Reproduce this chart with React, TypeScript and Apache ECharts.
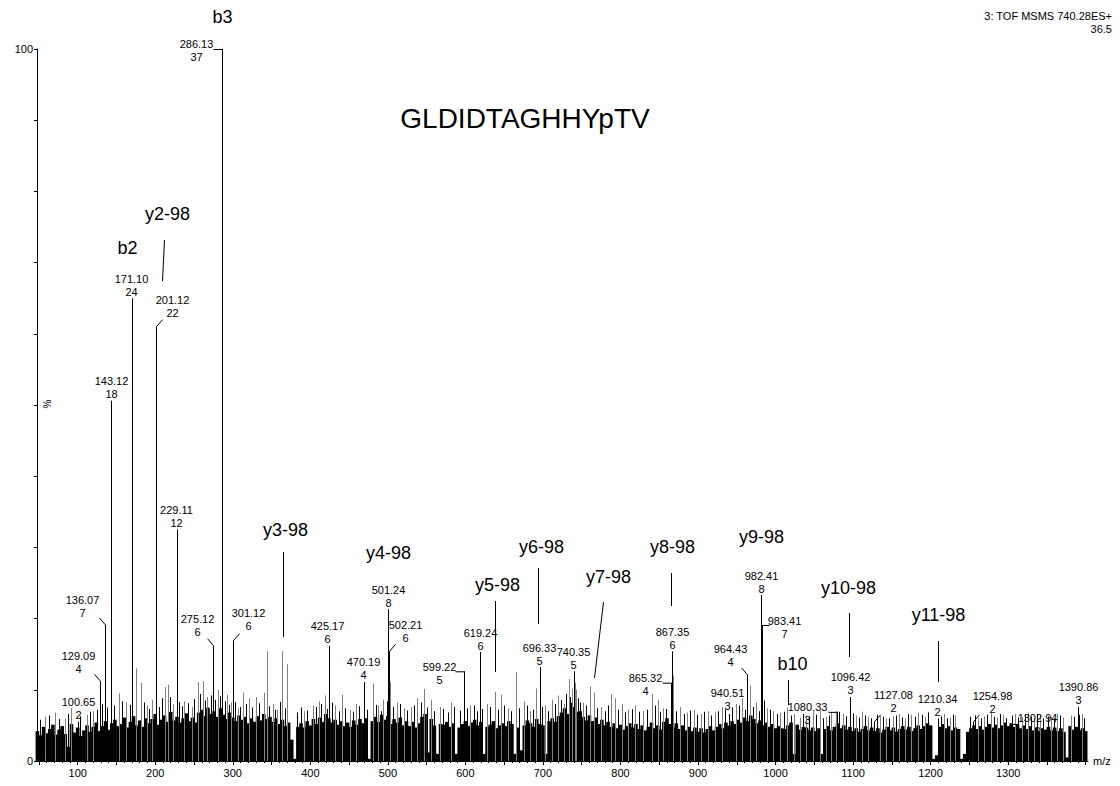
import React, { useEffect, useRef } from "react";
import * as echarts from "echarts";

const FONT = '"Liberation Sans", Arial, Helvetica, sans-serif';
const X_MIN = 47.5;
const X_MAX = 1403;

// ---- axis ticks ----
const xTickLabels = [100, 200, 300, 400, 500, 600, 700, 800, 900, 1000, 1100, 1200, 1300];
const xMajorTicks = [50, 100, 150, 200, 250, 300, 350, 400, 450, 500, 550, 600, 650, 700, 750, 800, 850, 900, 950, 1000, 1050, 1100, 1150, 1200, 1250, 1300, 1350, 1400];
const yTickLabels = [0, 100];

// ---- labelled peaks ----
const peakMz = [100.65, 129.09, 136.07, 143.12, 171.1, 201.12, 229.11, 275.12, 286.13, 301.12, 425.17, 470.19, 501.24, 502.21, 599.22, 619.24, 696.33, 740.35, 865.32, 867.35, 940.51, 964.43, 982.41, 983.41, 1080.33, 1096.42, 1127.08, 1210.34, 1254.98, 1302.94, 1390.86];
const peakCounts = [2, 4, 7, 18, 24, 22, 12, 6, 37, 6, 6, 4, 8, 6, 5, 6, 5, 5, 4, 6, 3, 4, 8, 7, 3, 3, 2, 2, 2, 2, 3];
const peakPct = [5.5, 11.2, 19.1, 50.6, 65.0, 61.0, 32.5, 16.2, 100, 16.9, 16.2, 11.1, 21.3, 15.4, 12.6, 15.3, 13.2, 12.6, 11.0, 15.4, 6.6, 12.1, 23.3, 19.1, 6.9, 9.0, 5.5, 6.0, 5.5, 5.2, 7.6];

// label placement relative to the peak top: [dx, dy, leader kind]
const peakLabelLayout: [number, number, string][] = [
  [0, -13, "a"], [-22, -19, "dl"], [-23, -19, "dl"], [0, -13, "a"], [-1, -13, "a"],
  [16, -20, "dr"], [-1, -13, "a"], [-16, -20, "dl"], [-26, 1, "ul"], [15, -21, "dr"],
  [-2, -13, "a"], [-1, -13, "a"], [0, -13, "a"], [16, -20, "dr"], [-25, 2, "ul"],
  [0, -13, "a"], [-1, -13, "a"], [-1, -13, "a"], [-26, 2, "ul"], [0, -13, "a"],
  [-2, -15, "a"], [-17, -19, "dl"], [0, -13, "a"], [22, 2, "ur"], [-30, 2, "ul"],
  [0, -13, "a"], [19, -20, "dr"], [-1, -13, "a"], [19, -19, "dr"], [27, 1, "ur"],
  [0, -13, "a"],
];

// ---- fragment ion annotations ----
const ionNames = ["b3", "b2", "y2-98", "y3-98", "y4-98", "y5-98", "y6-98", "y7-98", "y8-98", "y9-98", "b10", "y10-98", "y11-98"];
const ionMz = [286.13, 171.1, 209.1, 365.2, 500.2, 638.6, 693.3, 766.2, 864.8, 982.41, 1015.7, 1095.4, 1209.6];
// [labelDx, labelY, leaderTopDx, leaderTopY, leaderBottomY] (page pixels)
const ionLayout: (number | null)[][] = [
  [0, 17, null, null, null],
  [-6, 248, null, null, null],
  [5, 214, 2, 240, 281],
  [2, 530, 0, 552, 637],
  [0, 553, null, null, null],
  [2, 585, 0, 601, 672],
  [3, 547, 0, 568, 624],
  [14, 577, 9, 602, 678],
  [1, 547, 0, 573, 606],
  [-1, 537, null, null, null],
  [4, 664, 0, 680, 705],
  [-1, 588, 0, 613, 657],
  [0, 615, 0, 641, 682],
];

// ---- baseline noise (% , one value every 4 m/z from each block start) ----
const noiseBlocks: { start: number; values: number[] }[] = [
  { start: 48, values: [4.2, 3.6, 4.8, 3.9, 4.5, 5.1, 3.7, 4.4, 4.9, 3.8, 2.0, 5.2, 4.0, 4.7, 3.5, 4.3, 5.0, 4.1, 4.8, 5.4, 4.2, 4.9, 5.6, 4.4, 5.3] },
  { start: 148, values: [5.8, 4.9, 5.2, 6.1, 4.7, 5.5, 6.3, 5.0, 5.7, 4.8, 6.0, 5.3, 5.9, 6.6, 5.1, 5.8, 6.4, 5.5, 6.9, 5.7, 6.2, 5.4, 6.0, 6.7, 5.6] },
  { start: 248, values: [6.1, 5.4, 6.8, 7.2, 6.3, 7.5, 6.6, 7.0, 6.2, 7.4, 6.5, 5.9, 6.8, 6.1, 5.6, 6.4, 5.8, 6.2, 5.3, 6.0, 5.5, 6.3, 5.7, 6.6, 5.9] },
  { start: 348, values: [6.2, 5.5, 6.0, 5.2, 5.8, 4.9, 5.4, 3.0, 0.3, 4.8, 5.3, 4.7, 5.6, 5.0, 5.9, 5.2, 6.1, 5.5, 6.6, 6.0, 5.4, 5.8, 5.1, 5.6, 4.9] },
  { start: 448, values: [5.4, 4.8, 5.7, 5.1, 5.9, 5.3, 6.0, 0.3, 5.6, 6.2, 5.5, 6.5, 5.8, 6.3, 5.2, 5.9, 5.4, 6.1, 5.0, 5.6, 4.9, 5.5, 4.7, 5.3, 6.2] },
  { start: 548, values: [6.6, 1.2, 5.9, 5.0, 1.0, 5.2, 5.1, 5.5, 4.8, 5.3, 1.0, 4.7, 5.2, 5.6, 4.9, 5.4, 5.8, 5.0, 5.5, 1.0, 4.8, 5.1, 5.6, 4.6, 5.0] },
  { start: 648, values: [5.3, 4.9, 5.6, 5.2, 1.0, 4.7, 1.5, 5.0, 5.7, 5.3, 4.8, 5.9, 5.2, 5.0, 1.0, 5.6, 6.0, 5.5, 6.3, 6.8, 7.4, 6.6, 8.2, 7.6, 6.9] },
  { start: 748, values: [7.0, 6.2, 5.7, 6.4, 5.6, 6.1, 5.2, 5.8, 5.0, 5.5, 4.8, 5.3, 4.6, 5.1, 4.4, 4.9, 5.3, 4.7, 5.2, 4.5, 5.0, 4.3, 4.8, 5.4, 4.6] },
  { start: 848, values: [5.0, 4.4, 5.5, 6.0, 5.2, 4.7, 5.3, 4.5, 5.0, 4.3, 4.8, 4.2, 4.7, 4.1, 4.6, 4.0, 4.5, 4.9, 4.3, 4.8, 5.2, 4.6, 5.4, 5.0, 5.6] },
  { start: 948, values: [5.2, 5.8, 5.4, 6.1, 5.6, 6.4, 5.9, 5.3, 5.7, 5.0, 5.4, 4.8, 5.2, 4.6, 4.9, 4.6, 4.5, 5.0, 5.4, 1.0, 5.1, 4.4, 4.8, 4.7, 4.3] },
  { start: 1048, values: [4.7, 4.2, 4.6, 1.0, 4.5, 4.9, 4.3, 4.8, 5.3, 4.6, 5.0, 4.4, 4.8, 4.2, 4.6, 4.1, 4.5, 4.9, 4.3, 4.7, 4.2, 4.6, 4.0, 4.4, 4.8] },
  { start: 1148, values: [4.3, 4.7, 4.1, 4.5, 4.9, 4.4, 4.8, 4.2, 4.6, 5.0, 4.5, 4.9, 5.3, 5.0, 0.3, 0.8, 4.8, 5.2, 4.6, 4.9, 4.3, 4.7, 4.5, 0.3, 1.0] },
  { start: 1248, values: [4.1, 4.6, 5.0, 4.5, 4.9, 4.4, 4.8, 5.2, 4.7, 5.1, 4.6, 5.0, 5.4, 4.9, 5.3, 4.8, 5.2, 4.6, 5.0, 4.5, 4.9, 4.3, 4.7, 4.2, 4.6] },
  { start: 1348, values: [4.4, 4.8, 4.3, 4.7, 4.2, 4.6, 4.1, 0.5, 4.9, 4.4, 4.8, 4.3, 4.6, 4.2] },
];
const NOISE_STEP = 4;

// ---- unlabelled grey peaks [m/z, %] ----
const minorPeaks: [number, number][] = [
  [58, 6.2], [71, 6.8], [84, 6.0], [92, 7.4], [112, 6.5], [121, 7.0], [154.5, 9.5], [163, 8.2], [175.2, 13.0], [182.5, 11.0],
  [190, 7.8], [196, 8.6], [202.1, 16.4], [213.8, 10.4], [216.8, 10.7], [224, 8.0], [238, 8.4], [248, 7.6], [255.5, 11.1], [262, 11.2],
  [268, 9.0], [282.2, 10.0], [287.1, 11.0], [293.4, 9.3], [298, 8.2], [307, 7.4], [313.6, 9.6], [322, 8.8], [330.8, 9.0], [340.3, 9.6],
  [344.5, 15.4], [352, 8.0], [358, 7.2], [364.4, 15.4], [370.8, 13.6], [392, 7.0], [404, 7.8], [412, 8.4], [419, 9.2], [433, 7.8],
  [441.8, 9.3], [452, 7.2], [460, 8.0], [481.2, 10.9], [488, 7.8], [495, 8.6], [503.7, 11.1], [512, 8.2], [521, 7.4], [530, 7.6],
  [538, 8.8], [547.9, 10.1], [556, 8.6], [568, 7.6], [582, 8.2], [607, 7.8], [628, 8.0], [638.2, 9.7], [646.9, 9.3], [655, 7.4],
  [666.2, 12.5], [676, 8.4], [684, 7.0], [691.1, 10.2], [703, 7.8], [712, 8.6], [720, 9.2], [728, 8.0], [734.6, 11.5], [738.4, 10.2],
  [741.4, 11.0], [743.6, 10.0], [752, 8.2], [761, 10.5], [766.3, 9.6], [776, 7.6], [788, 9.4], [793, 8.8], [802, 8.0], [811, 7.2],
  [820, 7.8], [830, 7.0], [841, 9.4], [849, 8.6], [856, 7.4], [868.3, 12.0], [878, 7.6], [886, 6.8], [895, 7.2], [905, 6.6],
  [913, 7.0], [922, 6.8], [931, 7.6], [950, 8.0], [957, 8.8], [968, 10.6], [975, 8.2], [990, 7.4], [998, 7.0], [1006, 6.8],
  [1016, 7.5], [1025, 6.6], [1032, 6.1], [1040, 6.4], [1049, 7.0], [1058, 7.1], [1066, 6.2], [1072, 6.8], [1078, 7.0], [1088, 6.6],
  [1104, 6.4], [1112, 6.9], [1120, 6.2], [1135, 6.4], [1143, 6.0], [1152, 6.3], [1160, 6.6], [1168, 6.0], [1176, 6.5], [1185, 6.8],
  [1193, 6.2], [1218, 6.6], [1226, 6.1], [1232, 6.4], [1262, 6.0], [1270, 6.3], [1278, 6.7], [1286, 6.1], [1294, 6.5], [1310, 6.6],
  [1318, 6.2], [1326, 6.8], [1334, 6.0], [1342, 6.4], [1356, 6.2], [1364, 6.6], [1372, 6.1], [1382, 6.4], [1396, 6.6],
];

// ---- unlabelled dark noise spikes [m/z, %] ----
const darkSpikes: [number, number][] = [
  [52, 5.8], [63, 6.4], [77, 5.9], [88, 6.6], [104, 6.3], [117, 6.9], [126, 7.2], [132, 8.0], [139, 7.5], [147, 7.8],
  [158, 8.4], [168, 7.9], [186, 8.2], [193, 7.3], [206, 7.6], [210, 8.8], [220, 9.0], [231, 8.3], [235, 7.7], [243, 8.1],
  [251, 8.7], [258, 9.4], [265, 8.5], [272, 9.2], [278, 8.6], [284, 9.1], [290, 8.4], [296, 7.9], [304, 8.3], [310, 7.6],
  [318, 8.0], [326, 7.5], [334, 8.1], [348, 7.7], [355, 7.2], [361, 8.3], [368, 7.4], [384, 6.8], [388, 7.5], [397, 7.1],
  [408, 7.6], [415, 8.0], [422, 7.3], [429, 8.2], [437, 7.0], [446, 7.4], [456, 6.9], [464, 7.7], [474, 7.2], [485, 7.9],
  [492, 7.0], [499, 8.4], [507, 7.6], [516, 8.0], [525, 7.1], [534, 7.8], [543, 8.2], [551, 7.5], [560, 7.0], [572, 7.3],
  [578, 6.8], [586, 7.6], [594, 7.1], [603, 7.4], [612, 7.8], [616, 7.0], [622, 7.3], [632, 7.6], [643, 7.2], [651, 7.8],
  [660, 7.0], [670, 7.4], [680, 7.8], [688, 7.2], [699, 7.6], [707, 7.0], [716, 8.0], [724, 8.6], [731, 9.4], [736, 9.0],
  [746, 8.8], [749, 8.2], [756, 7.8], [770, 7.4], [781, 7.0], [785, 7.8], [797, 7.2], [806, 6.8], [815, 7.3], [825, 6.9],
  [835, 7.2], [845, 7.8], [852, 6.9], [860, 7.3], [872, 7.0], [882, 6.6], [890, 7.1], [900, 6.5], [909, 6.9], [918, 6.4],
  [926, 7.0], [935, 7.2], [944, 7.5], [954, 7.8], [961, 7.2], [971, 7.6], [979, 7.0], [986, 8.5], [994, 7.2], [1002, 6.6],
  [1011, 6.9], [1020, 6.4], [1036, 6.6], [1044, 6.2], [1053, 6.5], [1062, 6.0], [1069, 6.4], [1083, 6.9], [1092, 6.3], [1100, 6.7],
  [1108, 6.1], [1116, 6.4], [1124, 6.0], [1131, 6.5], [1139, 6.2], [1147, 6.0], [1156, 6.4], [1164, 6.1], [1172, 6.6], [1180, 6.2],
  [1189, 6.5], [1197, 6.8], [1214, 6.3], [1222, 6.0], [1229, 6.5], [1251, 6.2], [1258, 6.4], [1266, 6.0], [1274, 6.5], [1282, 6.2],
  [1290, 6.6], [1298, 6.0], [1306, 6.4], [1314, 6.1], [1322, 6.5], [1330, 6.2], [1338, 6.6], [1346, 6.0], [1352, 6.3], [1360, 6.0],
  [1368, 6.4], [1386, 6.2], [1392, 6.5], [1399, 6.0],
];

const TITLE = "GLDIDTAGHHYpTV";
const HEADER_1 = "3: TOF MSMS 740.28ES+";
const HEADER_2 = "36.5";

function lineSeries(name: string, data: number[][], color: string, z: number) {
  return {
    type: "custom",
    name,
    xAxisIndex: 0,
    z,
    data,
    encode: { x: 0, y: 1 },
    renderItem: (params: any, api: any) => {
      const top = api.coord([api.value(0), api.value(1)]);
      const base = api.coord([api.value(0), 0]);
      return {
        type: "rect",
        shape: { x: Math.floor(top[0]), y: top[1], width: 1, height: base[1] - top[1] },
        style: { fill: color },
      };
    },
  };
}

export default function App() {
  const ref = useRef<HTMLDivElement>(null);

  useEffect(() => {
    if (!ref.current) return;
    const chart = echarts.init(ref.current, undefined, { renderer: "svg" });

    const noiseData: number[][] = [];
    noiseBlocks.forEach((b) => {
      b.values.forEach((v, i) => noiseData.push([b.start + i * NOISE_STEP, v]));
    });
    const minorTickValues: number[] = [];
    for (let t = 50; t <= 1400; t += 10) minorTickValues.push(t);

    const peakData = peakMz.map((m, i) => [m, peakPct[i]]);
    const ionData = ionMz.map((m) => [m, 0]);

    const option: any = {
      animation: false,
      backgroundColor: "#ffffff",
      grid: { left: 37, right: 32, top: 49, bottom: 25, containLabel: false },
      xAxis: [
        {
          type: "value",
          min: X_MIN,
          max: X_MAX,
          position: "bottom",
          axisLine: { show: true, onZero: false, lineStyle: { color: "#000", width: 1 } },
          axisTick: { show: true, length: 4, customValues: xMajorTicks, lineStyle: { color: "#000" } },
          axisLabel: {
            show: true,
            customValues: xTickLabels,
            formatter: (v: number) => String(v),
            color: "#000",
            fontSize: 11,
            fontFamily: FONT,
            margin: 6,
          },
          splitLine: { show: false },
          name: "m/z",
          nameLocation: "end",
          nameGap: 5,
          nameTextStyle: { color: "#000", fontSize: 11, fontFamily: FONT },
        },
        {
          type: "value",
          min: X_MIN,
          max: X_MAX,
          position: "bottom",
          axisLine: { show: false, onZero: false },
          axisTick: { show: true, length: 2, customValues: minorTickValues, lineStyle: { color: "#000" } },
          axisLabel: { show: false },
          splitLine: { show: false },
        },
      ],
      yAxis: {
        type: "value",
        min: 0,
        max: 100,
        interval: 10,
        axisLine: { show: true, onZero: false, lineStyle: { color: "#000", width: 1 } },
        axisTick: { show: true, length: 3, lineStyle: { color: "#000" } },
        axisLabel: {
          color: "#000",
          fontSize: 11,
          fontFamily: FONT,
          margin: 4,
          formatter: (v: number) => (yTickLabels.indexOf(v) >= 0 ? String(v) : ""),
        },
        splitLine: { show: false },
      },
      graphic: [
        {
          type: "text",
          x: 525,
          y: 118,
          style: { text: TITLE, fill: "#000", font: `28px ${FONT}`, align: "center", verticalAlign: "middle" },
        },
        {
          type: "text",
          x: 1112,
          y: 16,
          style: { text: HEADER_1, fill: "#000", font: `11px ${FONT}`, align: "right", verticalAlign: "middle" },
        },
        {
          type: "text",
          x: 1112,
          y: 29,
          style: { text: HEADER_2, fill: "#000", font: `11px ${FONT}`, align: "right", verticalAlign: "middle" },
        },
        {
          type: "text",
          x: 47,
          y: 404,
          rotation: Math.PI / 2,
          style: { text: "%", fill: "#000", font: `10px ${FONT}`, align: "center", verticalAlign: "middle" },
        },
      ],
      series: [
        {
          type: "custom",
          name: "noise",
          xAxisIndex: 0,
          z: 1,
          data: noiseData,
          encode: { x: 0, y: 1 },
          renderItem: (params: any, api: any) => {
            const top = api.coord([api.value(0), api.value(1)]);
            const base = api.coord([api.value(0), 0]);
            const w = 3.6;
            return {
              type: "rect",
              shape: { x: top[0] - w / 2, y: top[1], width: w, height: base[1] - top[1] },
              style: { fill: "#000" },
            };
          },
        },
        lineSeries("dark", darkSpikes, "#000", 2),
        lineSeries("minor", minorPeaks, "#808080", 3),
        {
          type: "custom",
          name: "peaks",
          xAxisIndex: 0,
          z: 4,
          data: peakData,
          encode: { x: 0, y: 1 },
          renderItem: (params: any, api: any) => {
            const i = params.dataIndex;
            const m = api.value(0);
            const top = api.coord([m, api.value(1)]);
            const base = api.coord([m, 0]);
            const x = Math.floor(top[0]);
            const px = x + 0.5;
            const py = top[1];
            const [dx, dy, kind] = peakLabelLayout[i];
            const children: any[] = [
              { type: "rect", shape: { x, y: py, width: 1, height: base[1] - py }, style: { fill: "#000" } },
              {
                type: "text",
                x: px + dx,
                y: py + dy,
                style: {
                  text: m.toFixed(2) + "\n" + peakCounts[i],
                  fill: "#000",
                  font: `11px ${FONT}`,
                  align: "center",
                  verticalAlign: "middle",
                  lineHeight: 13,
                },
              },
            ];
            let l: number[] | null = null;
            if (kind === "dl") l = [px - 6, py - 7, px, py];
            else if (kind === "dr") l = [px + 6, py - 7, px, py];
            else if (kind === "ul") l = [px - 9, py + 0.5, px, py + 0.5];
            else if (kind === "ur") l = [px, py + 0.5, px + 7, py + 0.5];
            if (l) {
              children.push({
                type: "line",
                shape: { x1: l[0], y1: l[1], x2: l[2], y2: l[3] },
                style: { stroke: "#000", lineWidth: 1 },
              });
            }
            return { type: "group", children };
          },
        },
        {
          type: "custom",
          name: "ions",
          xAxisIndex: 0,
          z: 5,
          data: ionData,
          encode: { x: 0, y: 1 },
          renderItem: (params: any, api: any) => {
            const i = params.dataIndex;
            const px = Math.round(api.coord([api.value(0), 0])[0]) + 0.5;
            const [dx, ly, tdx, ty, by] = ionLayout[i];
            const children: any[] = [
              {
                type: "text",
                x: px + (dx as number),
                y: ly as number,
                style: {
                  text: ionNames[i],
                  fill: "#000",
                  font: `18px ${FONT}`,
                  align: "center",
                  verticalAlign: "middle",
                },
              },
            ];
            if (ty !== null) {
              children.push({
                type: "line",
                shape: { x1: px + (tdx as number), y1: ty as number, x2: px, y2: by as number },
                style: { stroke: "#000", lineWidth: 1 },
              });
            }
            return { type: "group", children };
          },
        },
      ],
    };

    chart.setOption(option);
    return () => chart.dispose();
  }, []);

  return (
    <div
      ref={ref}
      style={{ position: "fixed", left: 0, top: 0, width: 1120, height: 786, background: "#fff" }}
    />
  );
}
